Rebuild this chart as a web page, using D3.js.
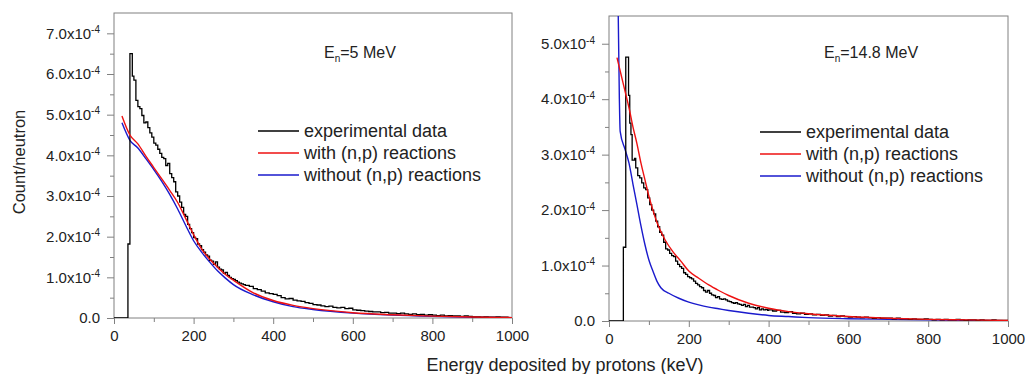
<!DOCTYPE html>
<html>
<head>
<meta charset="utf-8">
<script src="https://cdn.jsdelivr.net/npm/d3@7"></script>
<style>
  body { margin: 0; background: #fff; }
  svg { display: block; font-family: Arial, "Liberation Sans", sans-serif; }
</style>
</head>
<body>
<svg id="chart" width="1025" height="374"></svg>
<script>
// Proton energy deposition spectra, two panels (En = 5 MeV, En = 14.8 MeV).
// Counts are in units of 1e-4 per neutron.

const X_TICKS       = [0, 200, 400, 600, 800, 1000];
const X_MINOR       = [100, 300, 500, 700, 900];
const LEFT_Y_TICKS  = [0, 1, 2, 3, 4, 5, 6, 7];
const LEFT_Y_MINOR  = [0.5, 1.5, 2.5, 3.5, 4.5, 5.5, 6.5];
const RIGHT_Y_TICKS = [0, 1, 2, 3, 4, 5];
const RIGHT_Y_MINOR = [0.5, 1.5, 2.5, 3.5, 4.5];

const LEGEND = ["experimental data", "with (n,p) reactions", "without (n,p) reactions"];

// ── En = 5 MeV ───────────────────────────────────────────────────────────────
const L_EXP_X = [0, 35, 40, 46, 50, 55, 60, 65, 70, 75, 80, 85, 90, 95, 100, 105, 110, 115, 120, 125,
  130, 135, 140, 145, 150, 155, 160, 165, 170, 175, 180, 185, 190, 195, 200, 205, 210, 215, 220, 225,
  230, 235, 240, 245, 250, 255, 260, 265, 270, 275, 280, 285, 290, 295, 300, 305, 310, 315, 320, 325,
  330, 340, 350, 360, 370, 380, 390, 400, 410, 420, 430, 440, 450, 460, 470, 480, 490, 500, 510, 520,
  530, 540, 550, 560, 570, 580, 590, 600, 610, 620, 630, 640, 650, 660, 670, 680, 690, 700, 710, 720,
  730, 740, 750, 760, 770, 780, 790, 800, 810, 820, 830, 840, 850, 860, 870, 880, 890, 900, 910, 920,
  930, 940, 950, 960, 970, 980, 990, 1000];
const L_EXP_Y = [0, 1.82, 6.5, 5.95, 5.85, 5.35, 5.2, 5.15, 4.98, 4.8, 4.82, 4.68, 4.55, 4.45, 4.3, 4.25, 4.15, 4.05, 3.95, 3.92,
  3.75, 3.8, 3.55, 3.45, 3.35, 3.1, 3.0, 2.85, 2.72, 2.55, 2.5, 2.3, 2.2, 2.1, 1.98, 1.95, 1.82, 1.78, 1.68, 1.62,
  1.55, 1.52, 1.42, 1.4, 1.32, 1.38, 1.25, 1.2, 1.18, 1.1, 1.12, 1.05, 1.0, 0.97, 0.95, 0.92, 0.88, 0.86, 0.84, 0.82,
  0.8, 0.78, 0.72, 0.7, 0.66, 0.62, 0.6, 0.58, 0.55, 0.5, 0.47, 0.48, 0.44, 0.42, 0.41, 0.38, 0.36, 0.33, 0.32, 0.3,
  0.28, 0.29, 0.26, 0.25, 0.26, 0.23, 0.24, 0.2, 0.19, 0.18, 0.17, 0.16, 0.15, 0.15, 0.13, 0.14, 0.12, 0.12, 0.11, 0.12,
  0.1, 0.09, 0.1, 0.08, 0.09, 0.07, 0.08, 0.07, 0.06, 0.07, 0.05, 0.06, 0.05, 0.05, 0.04, 0.05, 0.04, 0.03, 0.03, 0.02,
  0.03, 0.02, 0.02, 0.03, 0.02, 0.02, 0.01, 0.01];

const L_SIM_X   = [20, 40, 60, 80, 100, 120, 140, 160, 180, 200, 220, 240, 260, 280, 300, 350, 400, 450, 500, 600, 700, 800, 900, 1000];
const L_WITH_Y  = [4.97, 4.5, 4.28, 3.98, 3.7, 3.42, 3.14, 2.84, 2.45, 2.05, 1.7, 1.45, 1.25, 1.07, 0.93, 0.62, 0.43, 0.31, 0.23, 0.13, 0.08, 0.045, 0.025, 0.01];
const L_WO_Y    = [4.8, 4.37, 4.18, 3.92, 3.65, 3.36, 3.04, 2.68, 2.28, 1.9, 1.62, 1.38, 1.16, 0.98, 0.82, 0.57, 0.4, 0.28, 0.21, 0.12, 0.07, 0.04, 0.02, 0.01];

// ── En = 14.8 MeV ────────────────────────────────────────────────────────────
const R_EXP_X = [0, 36, 42, 49, 52, 55, 58, 64, 67, 72, 77, 82, 87, 92, 97, 102, 107, 112, 117, 122,
  127, 132, 137, 142, 147, 152, 157, 162, 167, 172, 177, 182, 187, 192, 197, 202, 207, 212, 217, 222,
  227, 232, 237, 242, 247, 252, 257, 262, 267, 272, 277, 282, 287, 292, 297, 302, 307, 312, 317, 322,
  327, 332, 337, 342, 347, 352, 357, 362, 367, 372, 377, 382, 387, 392, 397, 400, 410, 420, 430, 440,
  450, 460, 470, 480, 490, 500, 510, 520, 530, 540, 550, 560, 570, 580, 590, 600, 610, 620, 630, 640,
  650, 660, 670, 680, 690, 700, 710, 720, 730, 740, 750, 760, 770, 780, 790, 800, 810, 820, 830, 840,
  850, 860, 870, 880, 890, 900, 910, 920, 930, 940, 950, 960, 970, 980, 990, 1000];
const R_EXP_Y = [0, 1.33, 4.76, 4.07, 3.57, 3.36, 2.9, 2.93, 2.76, 2.62, 2.58, 2.49, 2.4, 2.37, 2.22, 2.1, 2.0, 1.93, 1.8, 1.7,
  1.6, 1.55, 1.42, 1.3, 1.28, 1.22, 1.18, 1.16, 1.08, 1.02, 0.98, 0.95, 0.87, 0.84, 0.8, 0.78, 0.76, 0.72, 0.68, 0.65,
  0.62, 0.6, 0.55, 0.52, 0.55, 0.5, 0.47, 0.46, 0.42, 0.44, 0.4, 0.39, 0.4, 0.38, 0.36, 0.35, 0.33, 0.32, 0.33, 0.31,
  0.3, 0.28, 0.3, 0.26, 0.28, 0.25, 0.25, 0.24, 0.22, 0.24, 0.2, 0.22, 0.2, 0.21, 0.19, 0.2, 0.18, 0.19, 0.16, 0.15,
  0.17, 0.14, 0.13, 0.14, 0.12, 0.13, 0.11, 0.12, 0.1, 0.11, 0.09, 0.1, 0.08, 0.09, 0.08, 0.07, 0.08, 0.07, 0.06, 0.07,
  0.06, 0.05, 0.06, 0.05, 0.05, 0.05, 0.04, 0.05, 0.04, 0.04, 0.03, 0.04, 0.03, 0.03, 0.04, 0.03, 0.02, 0.03, 0.02, 0.03,
  0.02, 0.02, 0.03, 0.02, 0.01, 0.02, 0.02, 0.01, 0.02, 0.01, 0.01, 0.02, 0.01, 0.01, 0.01, 0.01];

const R_WITH_X = [20, 30, 40, 50, 60, 70, 80, 90, 100, 110, 120, 140, 160, 180, 200, 225, 250, 275, 300, 350, 400, 450, 500, 600, 700, 800, 900, 1000];
const R_WITH_Y = [4.75, 4.45, 4.15, 3.85, 3.5, 3.2, 2.85, 2.55, 2.25, 2.0, 1.78, 1.47, 1.25, 1.08, 0.9, 0.77, 0.65, 0.55, 0.46, 0.32, 0.23, 0.17, 0.13, 0.08, 0.05, 0.03, 0.02, 0.01];
const R_WO_X   = [23, 26, 28, 40, 50, 60, 70, 80, 90, 100, 110, 120, 130, 150, 175, 200, 225, 250, 275, 300, 350, 400, 450, 500, 600, 700, 800, 900, 1000];
const R_WO_Y   = [5.6, 4.0, 3.42, 3.1, 2.85, 2.47, 2.1, 1.72, 1.38, 1.1, 0.9, 0.72, 0.6, 0.5, 0.41, 0.34, 0.29, 0.25, 0.22, 0.19, 0.14, 0.1, 0.08, 0.06, 0.04, 0.03, 0.02, 0.01, 0.005];

const COLORS = { exp: "#000000", with: "#ee1111", without: "#1a1acc" };
const FRAME  = "#808080";

const svg = d3.select("#chart");

// ── Panels ───────────────────────────────────────────────────────────────────

drawPanel({
  id: "a", left: 114, right: 512, top: 13, bottom: 318, yMax: 7.5,
  yTicks: LEFT_Y_TICKS, yMinor: LEFT_Y_MINOR,
  exp: [L_EXP_X, L_EXP_Y], withR: [L_SIM_X, L_WITH_Y], without: [L_SIM_X, L_WO_Y],
  energy: "5 MeV", energyX: 324, energyY: 58,
  legendX: 258, legendY: 131,
});

drawPanel({
  id: "b", left: 609, right: 1008, top: 16, bottom: 321, yMax: 5.5,
  yTicks: RIGHT_Y_TICKS, yMinor: RIGHT_Y_MINOR,
  exp: [R_EXP_X, R_EXP_Y], withR: [R_WITH_X, R_WITH_Y], without: [R_WO_X, R_WO_Y],
  energy: "14.8 MeV", energyX: 824, energyY: 58,
  legendX: 760, legendY: 132,
});

svg.append("text")
  .attr("x", 565).attr("y", 371)
  .attr("text-anchor", "middle").attr("font-size", 18).attr("fill", "#222")
  .text("Energy deposited by protons (keV)");

svg.append("text")
  .attr("transform", "translate(25,162) rotate(-90)")
  .attr("text-anchor", "middle").attr("font-size", 16.5).attr("fill", "#222")
  .text("Count/neutron");

// ── Draw ─────────────────────────────────────────────────────────────────────

function drawPanel(p) {
  const x = d3.scaleLinear().domain([0, 1000]).range([p.left, p.right]);
  const y = d3.scaleLinear().domain([0, p.yMax]).range([p.bottom, p.top]);
  const g = svg.append("g");

  g.append("clipPath").attr("id", "clip-" + p.id)
    .append("rect")
      .attr("x", p.left).attr("y", p.top)
      .attr("width", p.right - p.left).attr("height", p.bottom - p.top);

  const styleAxis = ax => {
    ax.select(".domain").remove();
    ax.selectAll(".tick line").attr("stroke", FRAME);
  };

  // x axis
  g.append("g").attr("transform", `translate(0,${p.bottom})`)
    .call(d3.axisBottom(x).tickValues(X_MINOR).tickSize(4).tickFormat(""))
    .call(styleAxis);
  g.append("g").attr("transform", `translate(0,${p.bottom})`)
    .call(d3.axisBottom(x).tickValues(X_TICKS).tickSize(6).tickPadding(6).tickFormat(d3.format("d")))
    .call(styleAxis)
    .selectAll("text")
      .attr("font-size", 15).attr("fill", "#222").attr("font-family", "Arial, 'Liberation Sans', sans-serif");

  // y axis
  g.append("g").attr("transform", `translate(${p.left},0)`)
    .call(d3.axisLeft(y).tickValues(p.yMinor).tickSize(4).tickFormat(""))
    .call(styleAxis);
  g.append("g").attr("transform", `translate(${p.left},0)`)
    .call(d3.axisLeft(y).tickValues(p.yTicks).tickSize(7).tickPadding(7))
    .call(styleAxis)
    .selectAll("text")
      .attr("font-size", 15).attr("fill", "#222").attr("font-family", "Arial, 'Liberation Sans', sans-serif")
      .each(function (d) {
        const t = d3.select(this).text(null);
        if (d === 0) { t.text("0.0"); return; }
        t.append("tspan").text(d.toFixed(1) + "x10");
        t.append("tspan").attr("dy", "-0.55em").attr("font-size", 10).text("-4");
      });

  // frame
  g.append("rect")
    .attr("x", p.left).attr("y", p.top)
    .attr("width", p.right - p.left).attr("height", p.bottom - p.top)
    .attr("fill", "none").attr("stroke", FRAME).attr("stroke-width", 1);

  const plot = g.append("g").attr("clip-path", `url(#clip-${p.id})`);
  const pairs = ([xs, ys]) => xs.map((v, i) => [v, ys[i]]);

  const smooth = d3.line().x(d => x(d[0])).y(d => y(d[1])).curve(d3.curveMonotoneX);
  const step   = d3.line().x(d => x(d[0])).y(d => y(d[1])).curve(d3.curveStepAfter);

  plot.append("path").datum(pairs(p.without))
    .attr("d", smooth).attr("fill", "none").attr("stroke", COLORS.without).attr("stroke-width", 1.4);
  plot.append("path").datum(pairs(p.exp))
    .attr("d", step).attr("fill", "none").attr("stroke", COLORS.exp).attr("stroke-width", 1.3);
  plot.append("path").datum(pairs(p.withR))
    .attr("d", smooth).attr("fill", "none").attr("stroke", COLORS.with).attr("stroke-width", 1.4);

  // energy label
  const en = g.append("text")
    .attr("x", p.energyX).attr("y", p.energyY)
    .attr("font-size", 16).attr("fill", "#222");
  en.append("tspan").text("E");
  en.append("tspan").attr("dy", 4).attr("font-size", 10).text("n");
  en.append("tspan").attr("dy", -4).text("=" + p.energy);

  // legend
  const keys = [COLORS.exp, COLORS.with, COLORS.without];
  LEGEND.forEach((label, i) => {
    const ly = p.legendY + i * 22;
    g.append("line")
      .attr("x1", p.legendX).attr("x2", p.legendX + 41)
      .attr("y1", ly).attr("y2", ly)
      .attr("stroke", keys[i]).attr("stroke-width", 1.4);
    g.append("text")
      .attr("x", p.legendX + 46).attr("y", ly + 6)
      .attr("font-size", 18).attr("fill", "#222")
      .text(label);
  });
}
</script>
</body>
</html>
